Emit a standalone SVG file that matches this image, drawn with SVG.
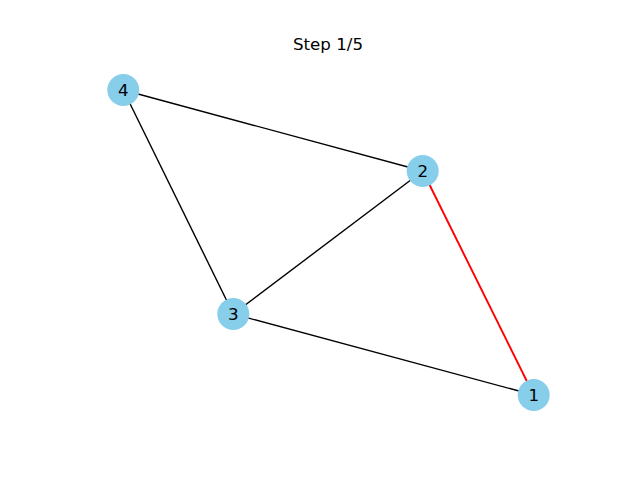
<svg xmlns="http://www.w3.org/2000/svg" width="640" height="480" viewBox="0 0 640 480">
<style>
.edge{stroke:#000;stroke-width:1.4;fill:none}
.hl{stroke:#f00;stroke-width:1.9}
.node circle{fill:#87ceeb}
text{font-family:"DejaVu Sans",sans-serif;font-size:16.67px;fill:#000;text-anchor:middle}
</style>
<rect width="640" height="480" fill="#fff"/>
<text x="328" y="50">Step 1/5</text>
<g id="edges">
<line class="edge" x1="123.3" y1="90" x2="422.7" y2="171"/>
<line class="edge" x1="123.3" y1="90" x2="233.3" y2="314"/>
<line class="edge" x1="422.7" y1="171" x2="233.3" y2="314"/>
<line class="edge" x1="233.3" y1="314" x2="533.7" y2="395"/>
<line class="edge hl" x1="422.7" y1="171" x2="533.7" y2="395"/>
</g>
<g id="node1" class="node"><circle cx="533.7" cy="395" r="16"/><text x="533.7" y="401">1</text></g>
<g id="node2" class="node"><circle cx="422.7" cy="171" r="16"/><text x="422.7" y="177">2</text></g>
<g id="node3" class="node"><circle cx="233.3" cy="314" r="16"/><text x="233.3" y="320">3</text></g>
<g id="node4" class="node"><circle cx="123.3" cy="90" r="16"/><text x="123.3" y="96">4</text></g>
</svg>
